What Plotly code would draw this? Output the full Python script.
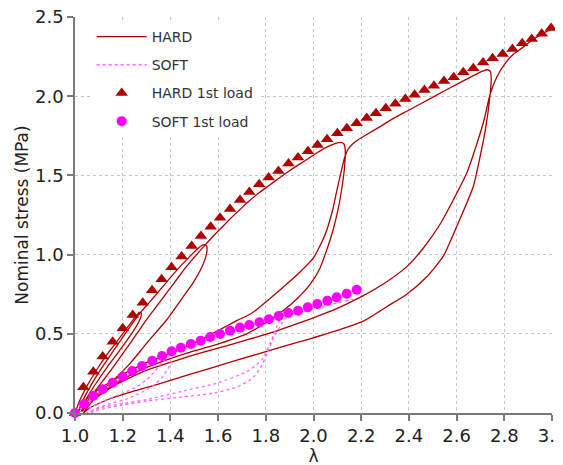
import plotly.graph_objects as go

# ---------------- data ----------------
hard_1st_lam = [1.0, 1.035, 1.077, 1.116, 1.158, 1.2, 1.242, 1.284, 1.323, 1.363, 1.405, 1.447,
                1.489, 1.528, 1.569, 1.608, 1.65, 1.692, 1.731, 1.772, 1.812, 1.853, 1.895, 1.935,
                1.977, 2.017, 2.057, 2.1, 2.14, 2.181, 2.223, 2.262, 2.303, 2.343, 2.385, 2.424,
                2.465, 2.505, 2.547, 2.588, 2.628, 2.67, 2.711, 2.751, 2.793, 2.834, 2.875, 2.915,
                2.957, 2.996]
hard_1st_sig = [0.0, 0.163, 0.26, 0.357, 0.45, 0.535, 0.619, 0.696, 0.775, 0.844, 0.92, 0.988,
                1.054, 1.117, 1.176, 1.233, 1.288, 1.345, 1.395, 1.444, 1.486, 1.528, 1.575, 1.613,
                1.652, 1.692, 1.728, 1.766, 1.797, 1.829, 1.862, 1.892, 1.924, 1.953, 1.982, 2.009,
                2.039, 2.066, 2.096, 2.119, 2.151, 2.176, 2.212, 2.239, 2.266, 2.298, 2.334, 2.361,
                2.395, 2.431]

soft_1st_lam = [1.0, 1.038, 1.077, 1.116, 1.158, 1.2, 1.24, 1.281, 1.324, 1.365, 1.405, 1.444,
                1.486, 1.527, 1.567, 1.608, 1.65, 1.692, 1.731, 1.773, 1.813, 1.854, 1.894, 1.935,
                1.976, 2.016, 2.058, 2.097, 2.139, 2.181]
soft_1st_sig = [0.0, 0.057, 0.109, 0.15, 0.191, 0.229, 0.265, 0.297, 0.33, 0.36, 0.39, 0.412,
                0.436, 0.456, 0.48, 0.499, 0.52, 0.539, 0.556, 0.573, 0.592, 0.612, 0.631, 0.646,
                0.667, 0.688, 0.709, 0.73, 0.753, 0.778]

# cyclic HARD test (load / unload / reload cycles)
hard_cyc_lam = [
    1.0, 1.02, 1.05, 1.09, 1.13, 1.17, 1.21, 1.25, 1.27,
    1.278, 1.275, 1.258, 1.228, 1.185, 1.135, 1.085, 1.045, 1.015,
    1.03, 1.065, 1.11, 1.16, 1.21, 1.25, 1.28, 1.31,
    1.35, 1.40, 1.447, 1.489, 1.52, 1.54,
    1.552, 1.553, 1.545, 1.525, 1.49, 1.454, 1.384, 1.30, 1.231, 1.147, 1.063, 1.025,
    1.05, 1.10, 1.16, 1.231, 1.30, 1.36, 1.42, 1.47, 1.51, 1.545, 1.575, 1.608, 1.65,
    1.692, 1.731, 1.772, 1.812, 1.853, 1.895, 1.935, 1.977, 2.017, 2.057, 2.09, 2.113,
    2.127, 2.133, 2.13, 2.12, 2.105, 2.076, 2.027, 1.985, 1.93, 1.88, 1.80, 1.72, 1.608,
    1.496, 1.384, 1.259, 1.147, 1.06, 1.03,
    1.05, 1.161, 1.286, 1.398, 1.496, 1.594, 1.68, 1.741, 1.831, 1.90, 1.95, 1.999, 2.048,
    2.08, 2.10, 2.117, 2.13, 2.145, 2.165, 2.19,
    2.225, 2.265, 2.33, 2.391, 2.465, 2.544, 2.62, 2.67, 2.712, 2.73,
    2.742, 2.745, 2.738, 2.722, 2.70, 2.67, 2.6, 2.544, 2.475, 2.391, 2.307, 2.209, 2.083,
    1.985, 1.943, 1.776, 1.566, 1.44, 1.356, 1.25, 1.147, 1.06, 1.035,
    1.077, 1.16, 1.286, 1.40, 1.496, 1.60, 1.72, 1.85, 1.943, 2.083, 2.195, 2.307, 2.391,
    2.46, 2.53, 2.586, 2.642, 2.685, 2.715, 2.74, 2.768, 2.80, 2.838, 2.875, 2.922, 2.96, 3.0]
hard_cyc_sig = [
    0.0, 0.08, 0.17, 0.27, 0.36, 0.44, 0.52, 0.60, 0.635,
    0.63, 0.60, 0.55, 0.48, 0.39, 0.29, 0.18, 0.085, 0.01,
    0.07, 0.17, 0.28, 0.39, 0.50, 0.585, 0.645, 0.695,
    0.765, 0.855, 0.935, 1.0, 1.045, 1.063,
    1.055, 1.02, 0.97, 0.90, 0.81, 0.734, 0.587, 0.44, 0.313, 0.187, 0.075, 0.01,
    0.07, 0.17, 0.29, 0.44, 0.59, 0.71, 0.83, 0.93, 1.00, 1.06, 1.11, 1.16, 1.225,
    1.285, 1.34, 1.39, 1.435, 1.48, 1.525, 1.565, 1.605, 1.645, 1.68, 1.70, 1.708,
    1.70, 1.66, 1.55, 1.43, 1.30, 1.124, 0.914, 0.81, 0.72, 0.655, 0.57, 0.50, 0.44,
    0.39, 0.335, 0.26, 0.166, 0.07, 0.01,
    0.09, 0.208, 0.31, 0.375, 0.44, 0.515, 0.585, 0.63, 0.74, 0.83, 0.90, 0.977, 1.124,
    1.28, 1.42, 1.53, 1.61, 1.665, 1.70, 1.728,
    1.76, 1.795, 1.855, 1.905, 1.965, 2.03, 2.09, 2.13, 2.16, 2.167,
    2.155, 2.10, 1.976, 1.80, 1.63, 1.43, 1.176, 0.99, 0.86, 0.75, 0.671, 0.58, 0.513,
    0.468, 0.45, 0.377, 0.282, 0.225, 0.185, 0.14, 0.09, 0.03, 0.0,
    0.08, 0.17, 0.261, 0.32, 0.366, 0.41, 0.461, 0.52, 0.57, 0.65, 0.73, 0.829, 0.924,
    1.04, 1.19, 1.345, 1.513, 1.70, 1.85, 2.01, 2.12, 2.20, 2.265, 2.305, 2.36, 2.395, 2.425]

# cyclic SOFT test
soft_cyc_lam = [
    1.0, 1.04, 1.1, 1.16, 1.24, 1.32, 1.40,
    1.408, 1.405, 1.39, 1.365, 1.33, 1.28, 1.22, 1.15, 1.09, 1.05,
    1.063, 1.147, 1.20, 1.259, 1.314, 1.356, 1.385, 1.42,
    1.5, 1.6, 1.7, 1.8, 1.86, 1.885,
    1.895, 1.885, 1.865, 1.834, 1.806, 1.776, 1.74, 1.68, 1.58, 1.44, 1.30, 1.2, 1.1, 1.06,
    1.1, 1.2, 1.3, 1.44, 1.594, 1.72, 1.783, 1.818, 1.846, 1.867, 1.90, 1.943, 2.027, 2.10, 2.181]
soft_cyc_sig = [
    0.0, 0.05, 0.12, 0.185, 0.255, 0.32, 0.37,
    0.365, 0.33, 0.28, 0.225, 0.175, 0.13, 0.09, 0.06, 0.03, 0.0,
    0.03, 0.093, 0.125, 0.166, 0.229, 0.303, 0.35, 0.38,
    0.425, 0.49, 0.535, 0.58, 0.61, 0.625,
    0.62, 0.60, 0.56, 0.48, 0.377, 0.28, 0.215, 0.165, 0.125, 0.10, 0.075, 0.05, 0.02, 0.0,
    0.03, 0.06, 0.085, 0.134, 0.188, 0.261, 0.335, 0.44, 0.545, 0.61, 0.625, 0.635, 0.668, 0.695, 0.724]

x_ticks = [1.0, 1.2, 1.4, 1.6, 1.8, 2.0, 2.2, 2.4, 2.6, 2.8, 3.0]
x_ticklabels = ["1.0", "1.2", "1.4", "1.6", "1.8", "2.0", "2.2", "2.4", "2.6", "2.8", "3.0"]
y_ticks = [0.0, 0.5, 1.0, 1.5, 2.0, 2.5]
y_ticklabels = ["0.0", "0.5", "1.0", "1.5", "2.0", "2.5"]

HARD_C = "#b00000"
SOFT_C = "#ff00ff"
SOFT_DASH_C = "#ff66ff"
FONT = "DejaVu Sans"

fig = go.Figure()
fig.add_trace(go.Scatter(x=hard_cyc_lam, y=hard_cyc_sig, mode="lines", name="HARD",
                         line=dict(color=HARD_C, width=1.3, shape="spline", smoothing=0.6),
                         legendgroup="a", cliponaxis=False))
fig.add_trace(go.Scatter(x=soft_cyc_lam, y=soft_cyc_sig, mode="lines", name="SOFT",
                         line=dict(color=SOFT_DASH_C, width=1.3, dash="dot", shape="spline", smoothing=0.6),
                         legendgroup="b", cliponaxis=False))
fig.add_trace(go.Scatter(x=hard_1st_lam, y=hard_1st_sig, mode="markers", name="HARD 1st load",
                         marker=dict(symbol="triangle-up", size=11, color=HARD_C),
                         legendgroup="c", cliponaxis=False))
fig.add_trace(go.Scatter(x=soft_1st_lam, y=soft_1st_sig, mode="markers", name="SOFT 1st load",
                         marker=dict(symbol="circle", size=10, color=SOFT_C),
                         legendgroup="d", cliponaxis=False))

axis_common = dict(
    showgrid=True, gridcolor="#c8c8c8", griddash="dot", gridwidth=1,
    showline=True, linecolor="#7a7a7a", linewidth=1.5,
    ticks="outside", ticklen=6, tickcolor="#7a7a7a", tickwidth=1.5,
    tickfont=dict(family=FONT, size=18, color="#222222"),
    zeroline=False, mirror=False, automargin=False, ticklabeloverflow="allow",
)
fig.update_xaxes(range=[1.0, 3.0], tickvals=x_ticks, ticktext=x_ticklabels,
                 title=dict(text="λ", font=dict(family=FONT, size=17, color="#222222"), standoff=0),
                 **axis_common)
fig.update_yaxes(range=[0.0, 2.5], tickvals=y_ticks, ticktext=y_ticklabels,
                 title=dict(text="Nominal stress (MPa)", font=dict(family=FONT, size=17, color="#222222"), standoff=2),
                 **axis_common)

fig.update_layout(
    width=563, height=465,
    margin=dict(l=67, r=19, t=9, b=60),
    paper_bgcolor="white", plot_bgcolor="white",
    font=dict(family=FONT, color="#333333"),
    legend=dict(x=0.035, y=0.99, xanchor="left", yanchor="top",
                bgcolor="white", font=dict(family=FONT, size=14, color="#333333"),
                tracegroupgap=7, itemwidth=50),
    showlegend=True,
)

fig.write_html("out.html")
